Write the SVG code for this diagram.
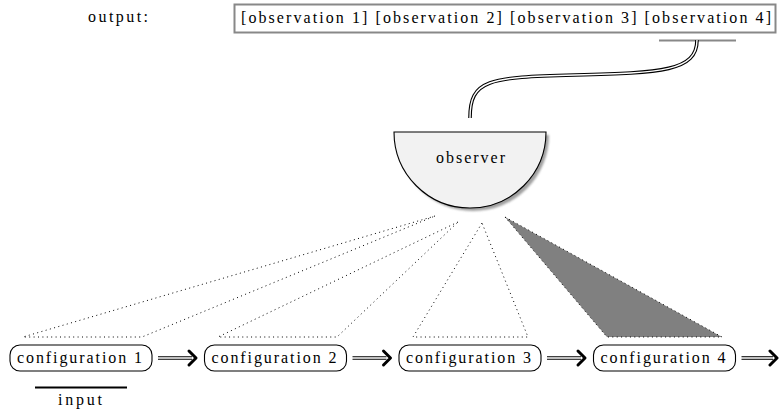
<svg xmlns="http://www.w3.org/2000/svg" width="779" height="409" viewBox="0 0 779 409">
<defs>
<style>
text{font-family:"Liberation Serif","DejaVu Serif",serif;font-size:16px;fill:#000}
.node{fill:#fff;stroke:#000;stroke-width:1.1}
.dot{fill:none;stroke:#000;stroke-width:1;stroke-dasharray:1 3.4}
.dbl-o{fill:none;stroke:#000;stroke-width:3.6}
.dbl-i{fill:none;stroke:#fff;stroke-width:1.4}
.head{fill:none;stroke:#000;stroke-width:3;stroke-linecap:round;stroke-linejoin:round}
</style>
<filter id="blur" x="-10%" y="-10%" width="130%" height="130%"><feGaussianBlur stdDeviation="1.2"/></filter>
</defs>
<rect width="779" height="409" fill="#fff"/>

<g id="output-label"><text x="88" y="22" textLength="60" lengthAdjust="spacing">output:</text></g>
<g id="output">
<rect x="234.5" y="4.5" width="541" height="28" fill="#fff" stroke="#888" stroke-width="2"/>
<text x="241" y="23" textLength="530" lengthAdjust="spacing">[observation 1] [observation 2] [observation 3] [observation 4]</text>
<line x1="659" y1="40.5" x2="736" y2="40.5" stroke="#888" stroke-width="2"/>
</g>

<g id="observer">
<path d="M397,135 A76,76 0 0 0 549,135 Z" fill="#888" opacity="0.8" filter="url(#blur)"/>
<path d="M394,132 A76,76 0 0 0 546,132 Z" fill="#f2f2f2" stroke="#000" stroke-width="1.1"/>
<text x="436" y="163" textLength="69" lengthAdjust="spacing">observer</text>
</g>

<g id="config1">
<rect class="node" x="10" y="345" width="142" height="26" rx="10"/>
<text x="17" y="363" textLength="125" lengthAdjust="spacing">configuration 1</text>
</g>
<g id="config2">
<rect class="node" x="204.5" y="345" width="142" height="26" rx="10"/>
<text x="211.5" y="363" textLength="125" lengthAdjust="spacing">configuration 2</text>
</g>
<g id="config3">
<rect class="node" x="399" y="345" width="142" height="26" rx="10"/>
<text x="406" y="363" textLength="125" lengthAdjust="spacing">configuration 3</text>
</g>
<g id="config4">
<rect class="node" x="593.5" y="345" width="142" height="26" rx="10"/>
<text x="600.5" y="363" textLength="125" lengthAdjust="spacing">configuration 4</text>
</g>

<g id="input">
<line x1="35" y1="387.5" x2="127" y2="387.5" stroke="#000" stroke-width="2"/>
<text x="58" y="405" textLength="44" lengthAdjust="spacing">input</text>
</g>

<g id="connectors">
<path class="dbl-o" d="M470,118 C470,80 488,77 575,75 S697,71 697,40"/>
<path class="dbl-i" d="M470,118 C470,80 488,77 575,75 S697,71 697,40"/>

<path class="dot" d="M435,216 L23,337 L142,337 Z"/>
<path class="dot" d="M458,222 L218,337 L337,337 Z"/>
<path class="dot" d="M482,223 L413,337 L528,337 Z"/>
<path d="M505,217 L607,337 L722,337 Z" fill="#808080"/>
<path class="dot" d="M505,217 L607,337 L722,337 Z"/>

<g id="arrows">
<path class="dbl-o" d="M158,358 H192"/><path class="dbl-i" d="M157,358 H193"/><path class="head" d="M189,351 L196,358 L189,365"/>
<path class="dbl-o" d="M352.5,358 H386.5"/><path class="dbl-i" d="M351.5,358 H387.5"/><path class="head" d="M383.5,351 L390.5,358 L383.5,365"/>
<path class="dbl-o" d="M547,358 H581"/><path class="dbl-i" d="M546,358 H582"/><path class="head" d="M578,351 L585,358 L578,365"/>
<path class="dbl-o" d="M741.5,358 H773"/><path class="dbl-i" d="M740.5,358 H774"/><path class="head" d="M770,351 L777,358 L770,365"/>
</g>
</g>
</svg>
